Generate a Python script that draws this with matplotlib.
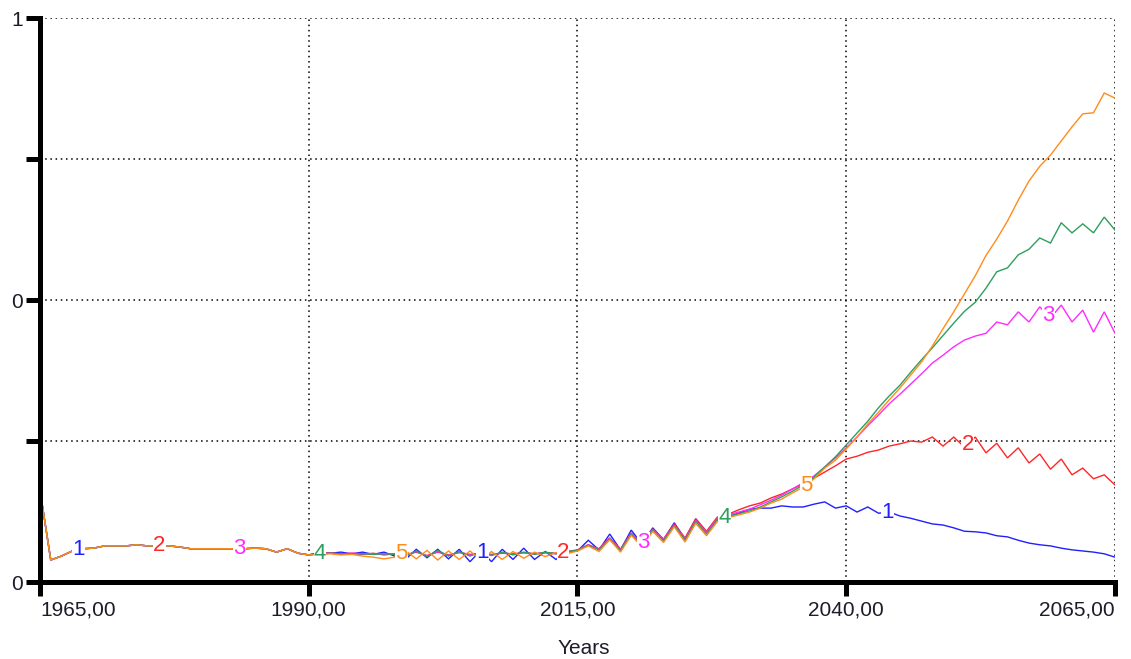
import numpy as np
import matplotlib
matplotlib.use("Agg")
import matplotlib.pyplot as plt

plt.rcParams['font.family'] = ['Liberation Sans', 'DejaVu Sans']

# Shared historical run, 1965-1990
years_hist = list(range(1965, 1991))
history = [0.163, 0.039, 0.046, 0.055, 0.059, 0.060, 0.064, 0.064, 0.064, 0.066,
           0.064, 0.064, 0.064, 0.062, 0.059, 0.059, 0.059, 0.059, 0.059, 0.059,
           0.060, 0.059, 0.053, 0.059, 0.051, 0.048]

# Scenario runs, 1991-2065
years_proj = list(range(1991, 2066))

run1 = [0.053, 0.051, 0.053, 0.050, 0.053, 0.049, 0.053, 0.046,
        0.040, 0.058, 0.043, 0.058, 0.041, 0.058, 0.036, 0.056,
        0.036, 0.058, 0.040, 0.060, 0.040, 0.054, 0.040, 0.053,
        0.055, 0.074, 0.057, 0.085, 0.057, 0.092, 0.067, 0.096,
        0.075, 0.105, 0.076, 0.112, 0.088, 0.110, 0.116,
        0.122, 0.129, 0.131, 0.131, 0.135, 0.133, 0.133, 0.138, 0.142, 0.131,
        0.135, 0.124, 0.133, 0.122, 0.124, 0.117, 0.113, 0.108, 0.103, 0.101,
        0.096, 0.090, 0.089, 0.087, 0.082, 0.080, 0.074, 0.069, 0.066, 0.064,
        0.060, 0.057, 0.055, 0.053, 0.050, 0.044]

run2 = [0.050, 0.052, 0.049, 0.051, 0.049, 0.051, 0.048, 0.050,
        0.048, 0.053, 0.047, 0.053, 0.048, 0.052, 0.049, 0.051,
        0.049, 0.051, 0.050, 0.052, 0.050, 0.052, 0.051, 0.054,
        0.057, 0.066, 0.059, 0.078, 0.058, 0.087, 0.068, 0.094,
        0.076, 0.103, 0.078, 0.112, 0.090, 0.115, 0.120,
        0.128, 0.135, 0.140, 0.149, 0.156, 0.165, 0.174, 0.184, 0.195, 0.206,
        0.218, 0.223, 0.230, 0.234, 0.241, 0.245, 0.250, 0.248, 0.257, 0.241,
        0.257, 0.239, 0.257, 0.229, 0.246, 0.220, 0.238, 0.211, 0.227, 0.200,
        0.218, 0.190, 0.202, 0.183, 0.190, 0.172]

run3 = [0.051, 0.051, 0.050, 0.051, 0.050, 0.050, 0.049, 0.050,
        0.047, 0.054, 0.046, 0.054, 0.047, 0.053, 0.048, 0.052,
        0.048, 0.052, 0.049, 0.052, 0.050, 0.052, 0.050, 0.053,
        0.056, 0.066, 0.058, 0.078, 0.057, 0.086, 0.066, 0.093,
        0.075, 0.101, 0.076, 0.109, 0.088, 0.112, 0.119,
        0.124, 0.129, 0.137, 0.145, 0.154, 0.165, 0.176, 0.188, 0.204, 0.220,
        0.238, 0.257, 0.277, 0.296, 0.316, 0.333, 0.351, 0.369, 0.388, 0.402,
        0.417, 0.429, 0.436, 0.441, 0.461, 0.456, 0.479, 0.461, 0.488, 0.468,
        0.491, 0.461, 0.482, 0.443, 0.479, 0.441]

run4 = [0.050, 0.051, 0.050, 0.050, 0.050, 0.049, 0.050, 0.049,
        0.045, 0.055, 0.045, 0.056, 0.046, 0.054, 0.046, 0.053,
        0.047, 0.053, 0.048, 0.053, 0.049, 0.053, 0.050, 0.054,
        0.056, 0.065, 0.057, 0.077, 0.056, 0.085, 0.065, 0.092,
        0.073, 0.100, 0.074, 0.107, 0.085, 0.110, 0.116,
        0.121, 0.126, 0.133, 0.142, 0.151, 0.161, 0.172, 0.186, 0.204, 0.222,
        0.243, 0.264, 0.285, 0.309, 0.330, 0.349, 0.372, 0.394, 0.415, 0.437,
        0.459, 0.480, 0.496, 0.521, 0.550, 0.557, 0.580, 0.590, 0.610, 0.601,
        0.637, 0.619, 0.635, 0.619, 0.647, 0.624]

run5 = [0.049, 0.050, 0.048, 0.049, 0.046, 0.044, 0.041, 0.044,
        0.056, 0.041, 0.056, 0.039, 0.055, 0.040, 0.055, 0.038,
        0.054, 0.040, 0.054, 0.042, 0.053, 0.045, 0.052, 0.050,
        0.055, 0.064, 0.054, 0.075, 0.053, 0.083, 0.062, 0.090,
        0.070, 0.098, 0.071, 0.104, 0.082, 0.107, 0.114,
        0.119, 0.124, 0.131, 0.140, 0.147, 0.158, 0.168, 0.183, 0.202, 0.216,
        0.236, 0.257, 0.280, 0.301, 0.323, 0.344, 0.367, 0.390, 0.418, 0.449,
        0.479, 0.511, 0.543, 0.579, 0.608, 0.640, 0.677, 0.711, 0.737, 0.757,
        0.782, 0.807, 0.830, 0.832, 0.867, 0.858]

runs = [run1, run2, run3, run4, run5]
run_names = ['1', '2', '3', '4', '5']
run_colors = ['#2020ff', '#ff2626', '#ff2bff', '#2e9e5e', '#ff8c1a']

# Where the run numbers sit along the time axis (cycling 1..5)
marker_years = [1968.55, 1976.1, 1983.55, 1991.05, 1998.6, 2006.2, 2013.65,
                2021.15, 2028.7, 2036.25, 2043.8, 2051.3, 2058.8]

x_ticks = [1965, 1990, 2015, 2040, 2065]
x_tick_labels = ['1965,00', '1990,00', '2015,00', '2040,00', '2065,00']
y_ticks = [0, 0.25, 0.5, 0.75, 1]
y_tick_labels = ['0', '', '0', '', '1']

W, H = 1131, 659
fig = plt.figure(figsize=(W / 100, H / 100), dpi=100)
ax = fig.add_axes([40 / W, 1 - 582 / H, (1115 - 40) / W, (582 - 18) / H])

full_years = np.array(years_hist + years_proj, dtype=float)
series = [np.array(history + r) for r in runs]

for i, (vals, col) in enumerate(zip(series, run_colors)):
    ax.plot(full_years, vals, color=col, lw=1.0, zorder=3 + i,
            solid_joinstyle='miter')

for k, yr in enumerate(marker_years):
    idx = k % 5
    yv = np.interp(yr, full_years, series[idx])
    ax.text(yr, yv, run_names[idx], color=run_colors[idx], fontsize=16,
            ha='center', va='center', zorder=20,
            bbox=dict(facecolor='white', edgecolor='none', pad=0.2))

ax.set_xlim(1965, 2065)
ax.set_ylim(0, 1)

# Dotted grid
for gx in x_ticks[1:]:
    ax.plot([gx, gx], [0, 1], color='black', lw=1.1,
            linestyle=(0, (1, 2.4)), zorder=1)
for gy in y_ticks[1:]:
    ax.plot([1965, 2065], [gy, gy], color='black', lw=1.1,
            linestyle=(0, (1, 2.4)), zorder=1)

for side in ['top', 'right']:
    ax.spines[side].set_visible(False)
for side in ['left', 'bottom']:
    ax.spines[side].set_linewidth(3.6)
    ax.spines[side].set_color('black')
    ax.spines[side].set_zorder(25)

ax.set_xticks(x_ticks)
ax.set_xticklabels(x_tick_labels)
ax.set_yticks(y_ticks)
ax.set_yticklabels(y_tick_labels)
ax.tick_params(axis='both', direction='out', length=10, width=3.6,
               color='black', labelsize=15, labelcolor='#1c1c2a')
ax.tick_params(axis='x', pad=3)
ax.tick_params(axis='y', pad=2)

xt = ax.get_xticklabels()
xt[0].set_horizontalalignment('left')
xt[-1].set_horizontalalignment('right')

ax.set_xlabel('Years', fontsize=15, color='#1c1c2a')
ax.xaxis.set_label_coords((584 - 40) / (1115 - 40), -(648 - 582) / (582 - 18))
ax.xaxis.label.set_verticalalignment('center')

fig.savefig('out.png', dpi=100)
